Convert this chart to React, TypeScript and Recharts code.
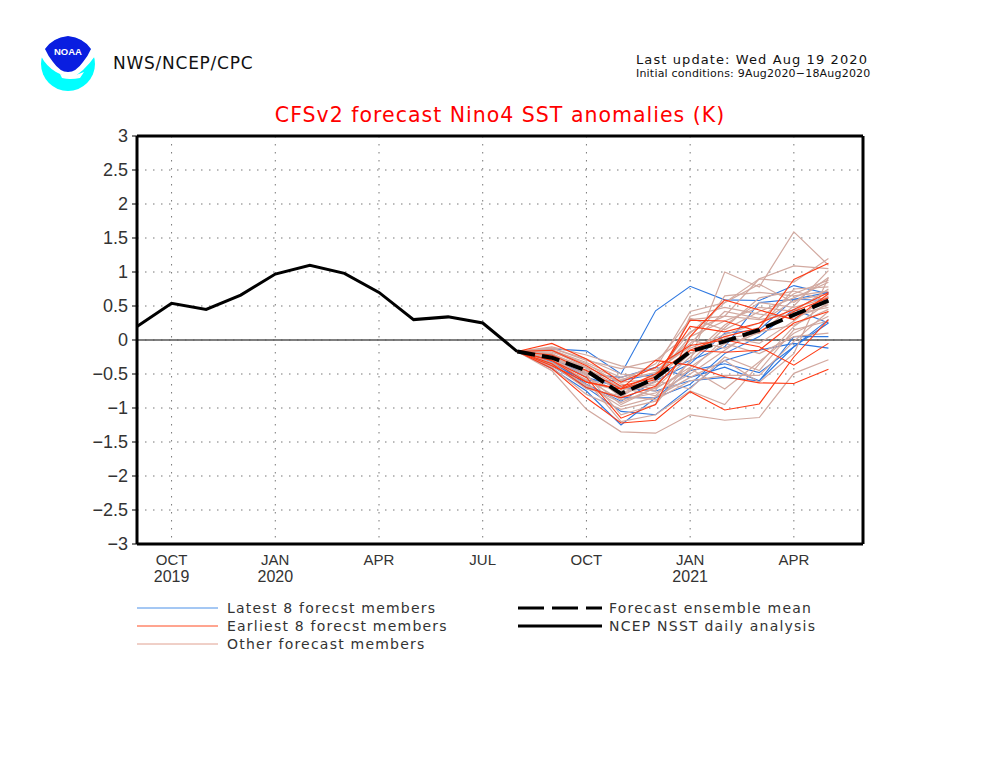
import React from "react";
import { LineChart, Line, XAxis, YAxis, CartesianGrid, ReferenceLine } from "recharts";

const monthIndex = [0, 1, 2, 3, 4, 5, 6, 7, 8, 9, 10, 11, 12, 13, 14, 15, 16, 17, 18, 19, 20];
const forecastStart = 11;
const analysis = [0.2, 0.54, 0.45, 0.66, 0.97, 1.1, 0.98, 0.7, 0.3, 0.34, 0.25, -0.17];
const ensembleMean = [-0.17, -0.26, -0.45, -0.79, -0.56, -0.17, -0.02, 0.15, 0.37, 0.58];

const latestMembers = [
  [-0.17, -0.13, -0.16, -0.5, 0.43, 0.79, 0.59, 0.58, 0.8, 0.68],
  [-0.17, -0.38, -0.7, -1.05, -1.1, -0.7, -0.3, -0.15, -0.05, -0.12],
  [-0.17, -0.42, -0.75, -1.25, -0.85, -0.65, -0.2, 0.05, 0.45, 0.25],
  [-0.17, -0.3, -0.7, -0.85, -0.85, -0.45, -0.35, -0.48, -0.1, 0.3],
  [-0.17, -0.35, -0.6, -0.6, -0.5, -0.3, -0.1, 0.55, 0.6, 0.7],
  [-0.17, -0.28, -0.5, -0.55, -0.4, -0.55, -0.4, -0.6, -0.1, 0.25],
  [-0.17, -0.32, -0.65, -0.9, -0.6, -0.35, 0.1, 0.15, 0.6, 0.58],
  [-0.17, -0.25, -0.55, -0.7, -0.75, -0.6, -0.55, -0.6, 0.05, 0.05],
];
const earliestMembers = [
  [-0.17, -0.42, -0.85, -1.22, -1.18, -0.76, -1.03, -0.94, -0.25, 0.3],
  [-0.17, -0.3, -0.62, -0.72, -0.58, 0.29, 0.28, 0.12, 0.42, 0.62],
  [-0.17, -0.05, -0.28, -0.62, -0.4, -0.08, 0.0, -0.1, -0.37, -0.05],
  [-0.17, -0.22, -0.45, -0.72, -0.3, -0.37, -0.54, -0.63, -0.64, -0.43],
  [-0.17, -0.3, -0.55, -1.15, -0.95, 0.05, 0.59, 0.44, 0.3, 0.68],
  [-0.17, -0.35, -0.7, -0.85, -0.68, -0.15, 0.05, 0.18, 0.89, 1.13],
  [-0.17, -0.38, -0.62, -0.72, -0.5, -0.15, -0.18, -0.15, 0.25, 0.42],
  [-0.17, -0.15, -0.38, -0.68, -0.55, 0.2, 0.12, 0.25, 0.45, 0.7],
];
const otherMembers = [
  [-0.17, -0.2, -0.5, -1.1, -0.95, -0.3, 1.0, 0.78, 1.59, 1.1],
  [-0.17, -0.45, -1.02, -1.35, -1.37, -1.1, -1.18, -1.14, -0.49, -0.29],
  [-0.17, -0.3, -0.6, -1.2, -1.1, -0.75, -0.95, -0.35, 0.2, 0.55],
  [-0.17, -0.25, -0.45, -0.6, -0.35, 0.3, 0.35, 0.9, 1.09, 1.05],
  [-0.17, -0.12, -0.3, -0.42, -0.3, 0.1, 0.55, 0.9, 0.85, 1.2],
  [-0.17, -0.15, -0.33, -0.55, -0.42, 0.42, 0.55, 0.82, 0.55, 0.92],
  [-0.17, -0.1, -0.22, -0.38, -0.45, -0.1, 0.65, 0.7, 0.65, 0.72],
  [-0.17, -0.22, -0.4, -0.8, -0.62, 0.32, 0.15, 0.42, 0.62, 0.85],
  [-0.17, -0.28, -0.52, -0.95, -0.7, -0.25, 0.22, 0.55, 0.48, 0.62],
  [-0.17, -0.33, -0.58, -0.88, -0.78, -0.5, -0.15, 0.18, 0.75, 0.78],
  [-0.17, -0.18, -0.35, -0.65, -0.72, -0.4, -0.05, -0.2, 0.05, 0.1],
  [-0.17, -0.26, -0.62, -0.75, -0.5, 0.12, 0.35, 0.3, 0.38, 0.48],
  [-0.17, -0.36, -0.72, -0.82, -0.88, -0.6, -0.52, -0.52, -0.02, 0.42],
  [-0.17, -0.24, -0.48, -0.72, -0.66, -0.2, 0.05, -0.05, 0.28, 0.65],
  [-0.17, -0.4, -0.8, -1.02, -0.9, -0.42, -0.72, -0.32, 0.1, 0.35],
  [-0.17, -0.14, -0.36, -0.58, -0.48, -0.05, 0.42, 0.32, 0.68, 0.88],
  [-0.17, -0.2, -0.42, -0.7, -0.82, -0.32, 0.18, 0.62, 0.72, 0.58],
  [-0.17, -0.3, -0.55, -0.78, -0.6, -0.72, -0.25, -0.45, 0.15, 0.28],
  [-0.17, -0.12, -0.28, -0.5, -0.55, 0.05, 0.28, 0.48, 0.42, 0.75],
  [-0.17, -0.34, -0.68, -0.92, -0.7, -0.45, 0.02, 0.1, 0.5, 1.02],
  [-0.17, -0.24, -0.5, -0.68, -0.75, 0.35, 0.48, 0.38, 0.32, 0.52],
  [-0.17, -0.16, -0.4, -0.62, -0.58, -0.12, 0.08, 0.25, 0.58, 0.68],
  [-0.17, -0.28, -0.46, -0.84, -0.52, 0.0, -0.12, 0.12, 0.22, 0.45],
  [-0.17, -0.38, -0.66, -0.98, -0.84, -0.55, -0.3, -0.62, -0.2, 0.92],
];

const yTicks = [-3, -2.5, -2, -1.5, -1, -0.5, 0, 0.5, 1, 1.5, 2, 2.5, 3];
const xDomain = [0, 21];
const yDomain = [-3, 3];
const xTicks = [1, 4, 7, 10, 13, 16, 19];
const xMonthLabels = ["OCT", "JAN", "APR", "JUL", "OCT", "JAN", "APR"];
const xYearLabels = ["2019", "2020", "", "", "", "2021", ""];

const titleText = "CFSv2 forecast Nino4 SST anomalies (K)";
const agencyText = "NWS/NCEP/CPC";
const updateText = "Last update: Wed Aug 19 2020";
const initialText = "Initial conditions: 9Aug2020\u221218Aug2020";
const leftLegend = [
  { label: "Latest 8 forecst members", color: "#4a90e8" },
  { label: "Earliest 8 forecst members", color: "#ff4a20" },
  { label: "Other forecast members", color: "#e0a090" },
];
const rightLegend = [
  { label: "Forecast ensemble mean", dash: "26 8" },
  { label: "NCEP NSST daily analysis", dash: undefined },
];

const BLUE = "#2f78e0";
const RED = "#ff3a14";
const OTHER = "#d2a9a0";
const FONT = "'DejaVu Sans', sans-serif";
const TICK_FONT = "'Liberation Sans', sans-serif";
const INK = "#333";

const rows = monthIndex.map((x) => {
  const row: Record<string, number | undefined> = { x };
  row.analysis = analysis[x];
  const i = x - forecastStart;
  if (i >= 0) {
    row.mean = ensembleMean[i];
    latestMembers.forEach((m, k) => (row[`latest${k}`] = m[i]));
    earliestMembers.forEach((m, k) => (row[`earliest${k}`] = m[i]));
    otherMembers.forEach((m, k) => (row[`other${k}`] = m[i]));
  }
  return row;
});

function XTick(props: any) {
  const { x, y, payload } = props;
  const k = xTicks.indexOf(payload.value);
  return (
    <g fontFamily={TICK_FONT} fontSize={15} fill={INK} textAnchor="middle">
      <text x={x} y={y + 13}>{xMonthLabels[k]}</text>
      <text x={x} y={y + 30} fontSize={16}>{xYearLabels[k]}</text>
    </g>
  );
}

export default function App() {
  const lines = (prefix: string, list: number[][], color: string, width: number) =>
    list.map((_, k) => (
      <Line
        key={`${prefix}${k}`}
        dataKey={`${prefix}${k}`}
        stroke={color}
        strokeWidth={width}
        dot={false}
        activeDot={false}
        isAnimationActive={false}
        legendType="none"
      />
    ));

  return (
    <div style={{ position: "absolute", left: 0, top: 0, width: 1000, height: 772, overflow: "hidden", background: "#fff" }}>
      <LineChart
        width={1000}
        height={772}
        data={rows}
        margin={{ top: 136, right: 137, bottom: 178, left: 100 }}
      >
        <CartesianGrid stroke="#777" strokeWidth={1} strokeDasharray="1.5 6.5" />
        <XAxis
          dataKey="x"
          type="number"
          domain={xDomain}
          ticks={xTicks}
          interval={0}
          height={50}
          tick={<XTick />}
          tickLine={false}
          axisLine={{ stroke: "#000", strokeWidth: 3 }}
        />
        <YAxis
          type="number"
          domain={yDomain}
          ticks={yTicks}
          interval={0}
          width={37}
          tickSize={5}
          tickMargin={4}
          tick={{ fontFamily: TICK_FONT, fontSize: 18, fill: INK }}
          tickFormatter={(v: number) => String(v).replace("-", "\u2212")}
          tickLine={{ stroke: "#000", strokeWidth: 1 }}
          axisLine={{ stroke: "#000", strokeWidth: 3 }}
        />
        <ReferenceLine y={0} stroke="#555" strokeWidth={1.5} />
        <ReferenceLine y={yDomain[1]} stroke="#000" strokeWidth={3} />
        <ReferenceLine x={xDomain[1]} stroke="#000" strokeWidth={3} />
        {lines("latest", latestMembers, BLUE, 1.1)}
        {lines("other", otherMembers, OTHER, 1.2)}
        {lines("earliest", earliestMembers, RED, 1.1)}
        <Line dataKey="analysis" stroke="#000" strokeWidth={3} dot={false} activeDot={false} isAnimationActive={false} />
        <Line dataKey="mean" stroke="#000" strokeWidth={4} strokeDasharray="18 7" dot={false} activeDot={false} isAnimationActive={false} />
      </LineChart>

      <svg width={1000} height={772} style={{ position: "absolute", left: 0, top: 0, pointerEvents: "none" }}>
        <g>
          <circle cx={68} cy={64} r={27} fill="#00ffff" />
          <path d="M41 49 L45 49 Q60 66 68 72 Q76 66 91 49 L95 49 L95 56 Q84 72 70 79 L56 72 Q46 66 41 56 Z" fill="#fff" />
          <path d="M45 49 Q52 38 68 36 Q84 38 91 49 Q88 56 83 62 Q76 72 68 72 Q60 72 53 62 Q48 56 45 49 Z" fill="#0a1ee0" />
          <text x={68} y={55} textAnchor="middle" fontFamily="'Liberation Sans', sans-serif" fontWeight="bold" fontSize={9.5} fill="#fff">NOAA</text>
          <path d="M60 74 Q72 78 84 72 L80 78 Q70 80 62 78 Z" fill="#fff" />
        </g>
        <g fontFamily={FONT} fill="#111">
          <text x={113} y={69} fontSize={17} letterSpacing={0.75}>{agencyText}</text>
          <text x={636} y={64} fontSize={13} letterSpacing={1.1}>{updateText}</text>
          <text x={636} y={77} fontSize={11} letterSpacing={0.2}>{initialText}</text>
        </g>
        <text x={500} y={122} textAnchor="middle" fontFamily={FONT} fontSize={20.5} letterSpacing={1} fill="#f00">{titleText}</text>
        <g fontFamily={FONT} fontSize={14} fill={INK} letterSpacing={1.22}>
          {leftLegend.map((d, k) => (
            <g key={d.label}>
              <line x1={137} x2={218} y1={608 + k * 18} y2={608 + k * 18} stroke={d.color} strokeWidth={1} />
              <text x={227} y={613 + k * 18}>{d.label}</text>
            </g>
          ))}
          {rightLegend.map((d, k) => (
            <g key={d.label}>
              <line x1={518} x2={602} y1={608 + k * 18} y2={608 + k * 18} stroke="#000" strokeWidth={3} strokeDasharray={d.dash} />
              <text x={609} y={613 + k * 18}>{d.label}</text>
            </g>
          ))}
        </g>
      </svg>
    </div>
  );
}
